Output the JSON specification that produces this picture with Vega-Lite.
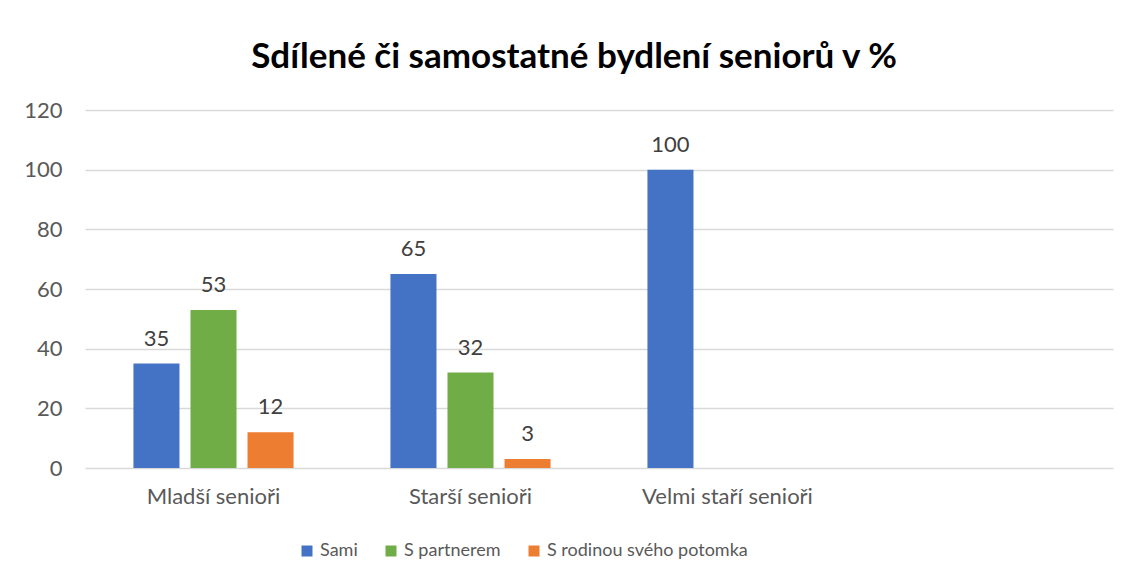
{
  "$schema": "https://vega.github.io/schema/vega-lite/v6.json",
  "autosize": "none",
  "width": 1028,
  "height": 358,
  "padding": {"left": 85, "top": 110, "right": 17, "bottom": 115},
  "background": "white",
  "title": {
    "text": "Sdílené či samostatné bydlení seniorů v %",
    "font": "Lato",
    "fontSize": 35,
    "fontWeight": "bold",
    "color": "#000000",
    "anchor": "middle",
    "offset": 24,
    "dx": -25
  },
  "data": {
    "values": [
      {"skupina": "Mladší senioři", "bydleni": "Sami", "procento": 35},
      {"skupina": "Mladší senioři", "bydleni": "S partnerem", "procento": 53},
      {"skupina": "Mladší senioři", "bydleni": "S rodinou svého potomka", "procento": 12},
      {"skupina": "Starší senioři", "bydleni": "Sami", "procento": 65},
      {"skupina": "Starší senioři", "bydleni": "S partnerem", "procento": 32},
      {"skupina": "Starší senioři", "bydleni": "S rodinou svého potomka", "procento": 3},
      {"skupina": "Velmi staří senioři", "bydleni": "Sami", "procento": 100}
    ]
  },
  "encoding": {
    "x": {
      "field": "skupina",
      "type": "nominal",
      "sort": null,
      "scale": {
        "domain": ["Mladší senioři", "Starší senioři", "Velmi staří senioři", " "],
        "paddingInner": 0.377,
        "paddingOuter": 0.1885
      },
      "axis": {
        "title": null,
        "labelAngle": 0,
        "domain": false,
        "ticks": false,
        "labelPadding": 18,
        "labelFont": "Lato",
        "labelFontSize": 22,
        "labelColor": "#595959"
      }
    },
    "xOffset": {
      "field": "bydleni",
      "type": "nominal",
      "scale": {
        "domain": ["Sami", "S partnerem", "S rodinou svého potomka"],
        "paddingInner": 0.193,
        "paddingOuter": 0
      }
    },
    "y": {
      "field": "procento",
      "type": "quantitative",
      "scale": {"domain": [0, 120], "nice": false},
      "axis": {
        "title": null,
        "values": [0, 20, 40, 60, 80, 100, 120],
        "domain": false,
        "ticks": false,
        "labelPadding": 23,
        "labelFont": "Lato",
        "labelFontSize": 22,
        "labelColor": "#595959",
        "gridColor": "#D9D9D9",
        "gridWidth": 1.5
      }
    }
  },
  "layer": [
    {
      "mark": {"type": "bar"},
      "encoding": {
        "color": {
          "field": "bydleni",
          "type": "nominal",
          "scale": {
            "domain": ["Sami", "S partnerem", "S rodinou svého potomka"],
            "range": ["#4472C4", "#70AD47", "#ED7D31"]
          },
          "legend": {
            "title": null,
            "orient": "none",
            "direction": "horizontal",
            "legendX": 213,
            "legendY": 432,
            "symbolType": "square",
            "symbolSize": 121,
            "symbolStrokeWidth": 0,
            "labelFont": "Lato",
            "labelFontSize": 18,
            "labelLimit": 400,
            "labelColor": "#595959",
            "labelOffset": 4,
            "columnPadding": 24
          }
        }
      }
    },
    {
      "mark": {
        "type": "text",
        "baseline": "alphabetic",
        "dy": -18,
        "font": "Lato",
        "fontSize": 22,
        "color": "#404040"
      },
      "encoding": {
        "text": {"field": "procento", "type": "quantitative"}
      }
    }
  ],
  "config": {
    "view": {"stroke": null}
  }
}
